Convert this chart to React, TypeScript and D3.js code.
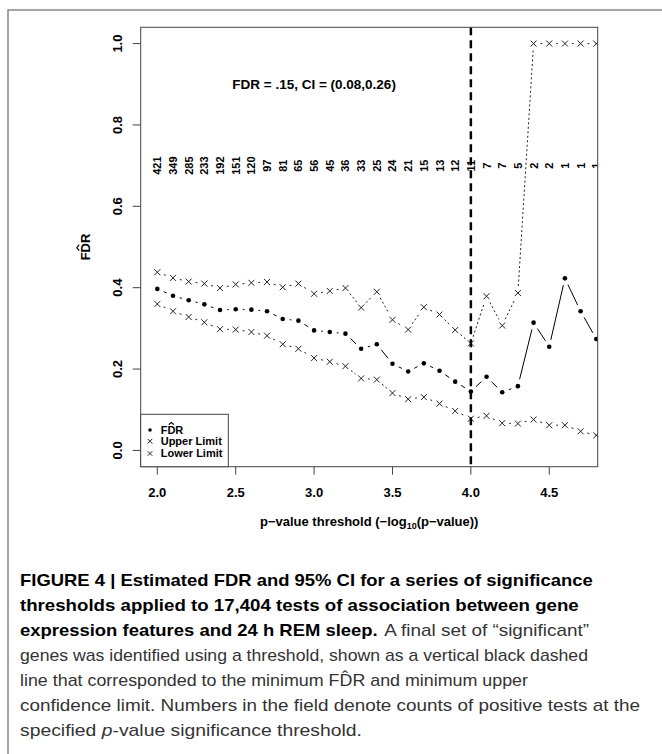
import React from 'react';
import * as d3 from 'd3';

// thresholds on the -log10(p) scale
const thresholds = [2.0, 2.1, 2.2, 2.3, 2.4, 2.5, 2.6, 2.7, 2.8, 2.9, 3.0, 3.1, 3.2, 3.3, 3.4, 3.5, 3.6, 3.7, 3.8, 3.9, 4.0, 4.1, 4.2, 4.3, 4.4, 4.5, 4.6, 4.7, 4.8];
const fdrHat = [0.397, 0.380, 0.369, 0.359, 0.345, 0.347, 0.346, 0.342, 0.323, 0.319, 0.295, 0.291, 0.287, 0.250, 0.261, 0.213, 0.194, 0.214, 0.196, 0.169, 0.145, 0.181, 0.143, 0.158, 0.314, 0.255, 0.423, 0.342, 0.274];
const upperLimit = [0.438, 0.424, 0.415, 0.410, 0.399, 0.408, 0.412, 0.414, 0.401, 0.410, 0.385, 0.392, 0.399, 0.351, 0.390, 0.321, 0.297, 0.352, 0.334, 0.296, 0.263, 0.379, 0.307, 0.387, 1.0, 1.0, 1.0, 1.0, 1.0];
const lowerLimit = [0.360, 0.342, 0.328, 0.315, 0.298, 0.297, 0.291, 0.282, 0.261, 0.250, 0.227, 0.218, 0.207, 0.177, 0.174, 0.141, 0.126, 0.131, 0.115, 0.097, 0.078, 0.085, 0.067, 0.066, 0.076, 0.062, 0.062, 0.047, 0.037];
const counts = ['421', '349', '285', '233', '192', '151', '120', '97', '81', '65', '56', '45', '36', '33', '25', '24', '21', '15', '13', '12', '11', '7', '7', '5', '2', '2', '1', '1', '1'];

const xTicks = [2.0, 2.5, 3.0, 3.5, 4.0, 4.5];
const yTicks = [0.0, 0.2, 0.4, 0.6, 0.8, 1.0];
const chosenThreshold = 4.0;
const annotation = 'FDR = .15, CI = (0.08,0.26)';
const legendLabels = ['FDR', 'Upper Limit', 'Lower Limit'];

const FONT = '"Liberation Sans", Arial, Helvetica, sans-serif';

// plot region
const left = 140.7, right = 597.7, top = 27.3, bottom = 466.7;

const x = d3.scaleLinear().domain([1.894, 4.809]).range([left, right]);
const y = d3.scaleLinear().domain([-0.04, 1.04]).range([bottom, top]);

// R type="b": segments between points with a gap around each point
function gappedSegments(vals: number[], gap: number) {
  const segs: string[] = [];
  for (let i = 0; i < vals.length - 1; i++) {
    const x0 = x(thresholds[i]), y0 = y(vals[i]);
    const x1 = x(thresholds[i + 1]), y1 = y(vals[i + 1]);
    const len = Math.hypot(x1 - x0, y1 - y0);
    if (len <= 2 * gap) continue;
    const ux = (x1 - x0) / len, uy = (y1 - y0) / len;
    segs.push(`M${x0 + ux * gap},${y0 + uy * gap}L${x1 - ux * gap},${y1 - uy * gap}`);
  }
  return segs.join('');
}

function cross(cx: number, cy: number, s: number) {
  return `M${cx - s},${cy - s}L${cx + s},${cy + s}M${cx - s},${cy + s}L${cx + s},${cy - s}`;
}

// hat drawn above the "D" of FDR
function Hat({ cx, capTop, w }: { cx: number; capTop: number; w: number }) {
  return <path d={`M${cx - w},${capTop - 1.5}L${cx},${capTop - 1.5 - w * 0.8}L${cx + w},${capTop - 1.5}`} fill="none" stroke="#000" strokeWidth={1.2} />;
}

function Chart() {
  const legX = left, legY = 414.3, legW = 87.6, legH = bottom - 414.3;
  const legRows = [434, 445, 457.3];
  return (
    <g fontFamily={FONT}>
      <defs>
        <clipPath id="plotClip">
          <rect x={left} y={top} width={right - left} height={bottom - top} />
        </clipPath>
      </defs>

      <g clipPath="url(#plotClip)">
        {/* counts of positive tests */}
        {counts.map((c, i) => (
          <text key={'c' + i} transform={`translate(${x(thresholds[i]) + 4},${y(0.7)}) rotate(-90)`} textAnchor="middle" fontSize={11} fontWeight="bold" fill="#000">{c}</text>
        ))}

        <path d={gappedSegments(fdrHat, 7)} fill="none" stroke="#000" strokeWidth={1} />
        <path d={gappedSegments(upperLimit, 7)} fill="none" stroke="#222" strokeWidth={1} strokeDasharray="2,2.5" />
        <path d={gappedSegments(lowerLimit, 7)} fill="none" stroke="#222" strokeWidth={1} strokeDasharray="2,2.5" />

        {fdrHat.map((v, i) => (
          <circle key={'f' + i} cx={x(thresholds[i])} cy={y(v)} r={2.3} fill="#000" />
        ))}
        {upperLimit.map((v, i) => (
          <path key={'u' + i} d={cross(x(thresholds[i]), y(v), 3)} stroke="#222" strokeWidth={1} fill="none" />
        ))}
        {lowerLimit.map((v, i) => (
          <path key={'l' + i} d={cross(x(thresholds[i]), y(v), 3)} stroke="#222" strokeWidth={1} fill="none" />
        ))}

        <line x1={x(chosenThreshold)} x2={x(chosenThreshold)} y1={top} y2={bottom} stroke="#000" strokeWidth={2.5} strokeDasharray="8,5" />
      </g>

      <text x={x(3.0)} y={y(0.9)} dy="0.36em" textAnchor="middle" fontSize={13.5} fontWeight="bold">{annotation}</text>

      {/* box */}
      <rect x={left} y={top} width={right - left} height={bottom - top} fill="none" stroke="#444" strokeWidth={1} />

      {/* y axis */}
      {yTicks.map((t) => (
        <g key={'yt' + t}>
          <line x1={left - 8} x2={left} y1={y(t)} y2={y(t)} stroke="#444" />
          <text transform={`translate(${left - 19},${y(t)}) rotate(-90)`} textAnchor="middle" fontSize={13} fontWeight="bold">{d3.format('.1f')(t)}</text>
        </g>
      ))}
      <g transform={`translate(90,${(top + bottom) / 2}) rotate(-90)`}>
        <text x={0} y={0} textAnchor="middle" fontSize={13} fontWeight="bold">FDR</text>
        <Hat cx={-0.7} capTop={-9.3} w={3} />
      </g>

      {/* x axis */}
      {xTicks.map((t) => (
        <g key={'xt' + t}>
          <line x1={x(t)} x2={x(t)} y1={bottom} y2={bottom + 8} stroke="#444" />
          <text x={x(t)} y={bottom + 30} textAnchor="middle" fontSize={13} fontWeight="bold">{d3.format('.1f')(t)}</text>
        </g>
      ))}
      <text x={(left + right) / 2} y={526} textAnchor="middle" fontSize={13} fontWeight="bold">
        p−value threshold (−log<tspan fontSize={9} dy={3}>10</tspan><tspan dy={-3}>(p−value))</tspan>
      </text>

      {/* legend */}
      <rect x={legX} y={legY} width={legW} height={legH} fill="#fff" stroke="#444" strokeWidth={1} />
      <circle cx={150} cy={legRows[0] - 4} r={1.8} fill="#000" />
      <path d={cross(150, legRows[1] - 3.8, 2.3)} stroke="#222" fill="none" />
      <path d={cross(150, legRows[2] - 3.8, 2.3)} stroke="#222" fill="none" />
      {legendLabels.map((l, i) => (
        <text key={'lg' + i} x={160.7} y={legRows[i]} fontSize={11} fontWeight="bold">{l}</text>
      ))}
      <Hat cx={160.7 + 6.7 + 4} capTop={legRows[0] - 7.9} w={2.6} />
    </g>
  );
}

function Caption() {
  const x0 = 20;
  const bold = { fontWeight: 'bold' as const, fill: '#000' };
  const norm = { fill: '#333' };
  return (
    <g fontFamily={FONT} fontSize={17}>
      <text x={x0} y={586} textLength={572.7} lengthAdjust="spacingAndGlyphs" {...bold}>FIGURE 4 | Estimated FDR and 95% CI for a series of significance</text>
      <text x={x0} y={611} textLength={558.7} lengthAdjust="spacingAndGlyphs" {...bold}>thresholds applied to 17,404 tests of association between gene</text>
      <text x={x0} y={636} textLength={357.7} lengthAdjust="spacingAndGlyphs" {...bold}>expression features and 24 h REM sleep.</text>
      <text x={384.3} y={636} textLength={204.7} lengthAdjust="spacingAndGlyphs" {...norm}>A final set of “significant”</text>
      <text x={x0} y={661} textLength={568} lengthAdjust="spacingAndGlyphs" {...norm}>genes was identified using a threshold, shown as a vertical black dashed</text>
      <text x={x0} y={686} textLength={508} lengthAdjust="spacingAndGlyphs" {...norm}>line that corresponded to the minimum FD̂R and minimum upper</text>
      <text x={x0} y={711} textLength={620} lengthAdjust="spacingAndGlyphs" {...norm}>confidence limit. Numbers in the field denote counts of positive tests at the</text>
      <text x={x0} y={736} textLength={342} lengthAdjust="spacingAndGlyphs" {...norm}>specified <tspan fontStyle="italic">p</tspan>-value significance threshold.</text>
    </g>
  );
}

export default function App() {
  return (
    <div style={{ position: 'absolute', left: 0, top: 0 }}>
      <svg width={662} height={754} viewBox="0 0 662 754" style={{ display: 'block', background: '#fff' }}>
        <path d="M8,754V10H662" fill="none" stroke="#888" strokeWidth={1.5} />
        <Chart />
        <Caption />
      </svg>
    </div>
  );
}
